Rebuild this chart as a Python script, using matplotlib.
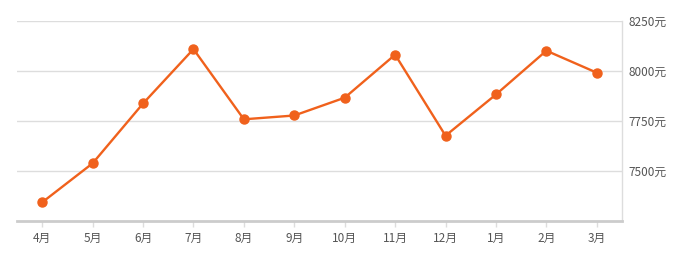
import matplotlib
matplotlib.use('Agg')
import matplotlib.pyplot as plt

plt.rcParams['font.family'] = ['Noto Sans CJK SC', 'DejaVu Sans']

months = ['4月', '5月', '6月', '7月', '8月', '9月', '10月', '11月', '12月', '1月', '2月', '3月']
prices = [7345, 7540, 7839, 8111, 7760, 7779, 7868, 8083, 7678, 7884, 8103, 7993]
yticks = [7500, 7750, 8000, 8250]
ytick_labels = ['7500元', '7750元', '8000元', '8250元']

fig = plt.figure(figsize=(6.88, 2.58), dpi=100)
ax = fig.add_axes([17 / 688, (258 - 221.3) / 258, 605 / 688, 200 / 258])

x = list(range(len(months)))
ax.plot(x, prices, color='#f0611c', linewidth=1.7, marker='o', markersize=6.5,
        markerfacecolor='#f0611c', markeredgecolor='#f0611c', zorder=3)

ax.set_xlim(-0.5, len(months) - 0.5)
ax.set_ylim(7250, 8250)
ax.set_xticks(x)
ax.set_xticklabels(months)
ax.set_yticks(yticks)
ax.set_yticklabels(ytick_labels)
ax.yaxis.tick_right()

ax.grid(axis='y', color='#dddddd', linewidth=1)
ax.set_axisbelow(True)

for side in ['top', 'left']:
    ax.spines[side].set_visible(False)
ax.spines['right'].set_color('#dddddd')
ax.spines['right'].set_linewidth(1)
ax.spines['bottom'].set_color('#cccccc')
ax.spines['bottom'].set_linewidth(2)

ax.tick_params(axis='x', colors='#dddddd', labelcolor='#555555', length=4, width=1,
               labelsize=8.5, pad=4)
ax.tick_params(axis='y', length=0, labelcolor='#555555', labelsize=8.5, pad=5)

fig.savefig('out.png', dpi=100)
